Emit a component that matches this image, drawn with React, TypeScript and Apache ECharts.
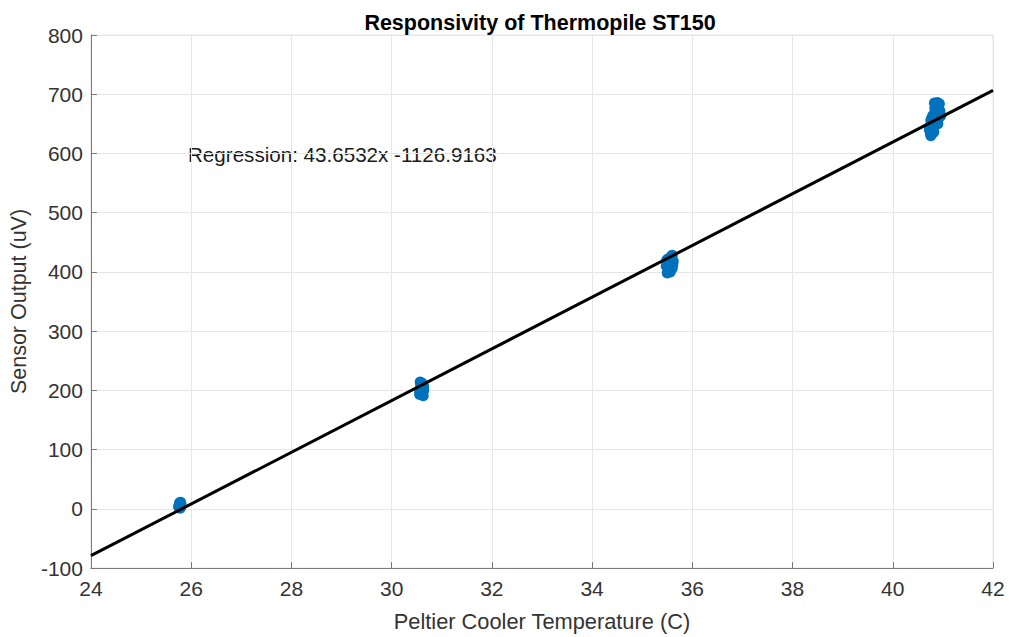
import React, { useEffect, useRef } from "react";
import * as echarts from "echarts";

const xTicks = [24, 26, 28, 30, 32, 34, 36, 38, 40, 42];
const yTicks = [-100, 0, 100, 200, 300, 400, 500, 600, 700, 800];

const c1X = [25.76, 25.78, 25.77, 25.79, 25.75, 25.78, 25.8, 25.77, 25.76, 25.79];
const c1Y = [2, 5, 8, 11, 4, 1, 7, 10, 6, 3];

const c2X = [30.56, 30.6, 30.64, 30.58, 30.63, 30.61, 30.56, 30.6, 30.64, 30.58, 30.62, 30.6, 30.57, 30.63];
const c2Y = [193, 196, 200, 204, 208, 212, 198, 202, 206, 210, 195, 209, 214, 191];

const c3X = [35.5, 35.55, 35.6, 35.48, 35.56, 35.62, 35.52, 35.58, 35.54, 35.61, 35.49, 35.56, 35.6, 35.52, 35.55];
const c3Y = [398, 402, 406, 410, 414, 418, 422, 426, 404, 412, 420, 400, 428, 416, 408];

const c4X = [
  40.75, 40.77, 40.74, 40.79, 40.78, 40.82, 40.8, 40.85, 40.84, 40.88, 40.86, 40.9, 40.92, 40.88,
  40.94, 40.91, 40.87, 40.95, 40.83, 40.76, 40.8, 40.73, 40.82, 40.78, 40.96, 40.93, 40.85, 40.89,
  40.76, 40.81, 40.84, 40.9,
];
const c4Y = [
  634, 640, 646, 652, 638, 658, 664, 670, 648, 676, 682, 668, 660, 654, 672, 678, 656, 664, 685,
  656, 644, 640, 636, 660, 664, 684, 678, 686, 630, 650, 676, 650,
];

const regSlope = 43.6532;
const regIntercept = -1126.9163;
const regLineX = [24, 42];

const titleText = "Responsivity of Thermopile ST150";
const xName = "Peltier Cooler Temperature (C)";
const yName = "Sensor Output (uV)";
const regText = "Regression: 43.6532x -1126.9163";

const FONT = "Liberation Sans, Arial, Helvetica, sans-serif";

export default function App() {
  const ref = useRef<HTMLDivElement>(null);
  useEffect(() => {
    document.body.style.margin = "0";
    const chart = echarts.init(ref.current!, null, { renderer: "svg" });
    const pts: number[][] = [];
    [
      [c1X, c1Y],
      [c2X, c2Y],
      [c3X, c3Y],
      [c4X, c4Y],
    ].forEach(([xs, ys]) => xs.forEach((x, i) => pts.push([x, ys[i]])));
    const lineData = regLineX.map((x) => [x, regSlope * x + regIntercept]);

    chart.setOption({
      animation: false,
      backgroundColor: "#ffffff",
      textStyle: { fontFamily: FONT },
      title: {
        text: titleText,
        left: 535,
        textAlign: "center",
        top: 7,
        textStyle: { fontFamily: FONT, fontSize: 21.5, fontWeight: "bold", color: "#000" },
      },
      grid: {
        left: 88,
        right: 16,
        top: 35,
        bottom: 68,
        show: true,
        borderColor: "#e6e6e6",
        borderWidth: 1,
      },
      xAxis: {
        type: "value",
        min: 24,
        max: 42,
        interval: 2,
        name: xName,
        nameLocation: "middle",
        nameGap: 42,
        nameTextStyle: { fontFamily: FONT, fontSize: 21.8, color: "#333" },
        axisLine: { show: true, onZero: false, lineStyle: { color: "#7a7a7a", width: 1 } },
        axisTick: { show: true, inside: true, length: 6, lineStyle: { color: "#7a7a7a" } },
        axisLabel: {
          fontFamily: FONT,
          fontSize: 21,
          color: "#333",
          margin: 10,
          formatter: (v: number) => (xTicks.includes(v) ? String(v) : ""),
        },
        splitLine: { show: true, lineStyle: { color: "#e6e6e6", width: 1 } },
      },
      yAxis: {
        type: "value",
        min: -100,
        max: 800,
        interval: 100,
        name: yName,
        nameLocation: "middle",
        nameGap: 57,
        nameTextStyle: { fontFamily: FONT, fontSize: 21.5, color: "#333" },
        axisLine: { show: true, onZero: false, lineStyle: { color: "#7a7a7a", width: 1 } },
        axisTick: { show: true, inside: true, length: 6, lineStyle: { color: "#7a7a7a" } },
        axisLabel: {
          fontFamily: FONT,
          fontSize: 21,
          color: "#333",
          margin: 8,
          formatter: (v: number) => (yTicks.includes(v) ? String(v) : ""),
        },
        splitLine: { show: true, lineStyle: { color: "#e6e6e6", width: 1 } },
      },
      graphic: [
        {
          type: "text",
          left: 188,
          top: 144,
          style: { text: regText, fontFamily: FONT, fontSize: 20.6, fill: "#1a1a1a" },
        },
      ],
      series: [
        {
          type: "scatter",
          data: pts,
          symbol: "circle",
          symbolSize: 11,
          itemStyle: { color: "#0072BD", opacity: 1 },
          z: 2,
        },
        {
          type: "line",
          data: lineData,
          symbol: "none",
          lineStyle: { color: "#000", width: 3 },
          z: 3,
        },
      ],
    });
    return () => chart.dispose();
  }, []);
  return <div ref={ref} style={{ width: 1009, height: 637 }} />;
}
